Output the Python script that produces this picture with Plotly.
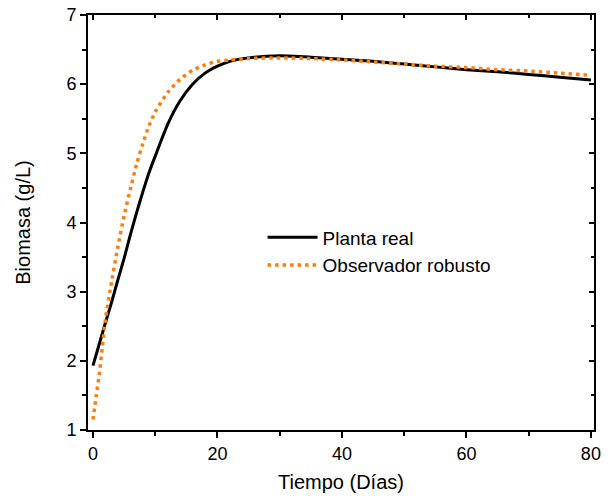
import plotly.graph_objects as go

t_real = [0, 1, 2, 3, 4, 5, 6, 7, 8, 9, 10, 12, 14, 16, 18, 20, 22, 25, 30, 35, 40, 45, 50, 55, 60, 65, 70, 75, 80]
y_real = [1.93, 2.24, 2.55, 2.85, 3.17, 3.48, 3.82, 4.14, 4.44, 4.72, 4.96, 5.42, 5.76, 6.00, 6.16, 6.26, 6.33, 6.38, 6.41, 6.39, 6.36, 6.33, 6.29, 6.25, 6.21, 6.18, 6.14, 6.10, 6.06]

t_obs = [0, 0.5, 1, 1.5, 2, 3, 4, 5, 6, 7, 8, 9, 10, 12, 14, 16, 18, 20, 22, 25, 30, 35, 40, 45, 50, 55, 60, 65, 70, 75, 80]
y_obs = [1.15, 1.48, 1.80, 2.20, 2.60, 3.15, 3.65, 4.10, 4.48, 4.84, 5.14, 5.40, 5.60, 5.88, 6.07, 6.20, 6.28, 6.33, 6.35, 6.37, 6.38, 6.37, 6.35, 6.32, 6.29, 6.26, 6.24, 6.21, 6.19, 6.16, 6.13]

names = ["Planta real", "Observador robusto"]
x_title = "Tiempo (Días)"
y_title = "Biomasa (g/L)"

FONT = "Liberation Sans, Arial, sans-serif"
XR = [-0.8, 80.5]
YR = [1, 7]

fig = go.Figure()
fig.add_trace(go.Scatter(x=t_real, y=y_real, mode="lines", name=names[0],
                         line=dict(color="black", width=3, shape="spline", smoothing=0.6)))
fig.add_trace(go.Scatter(x=t_obs, y=y_obs, mode="lines", name=names[1],
                         line=dict(color="#FF7F0E", width=3.5, dash="3.5px,4px", shape="spline", smoothing=0.6)))
fig.add_trace(go.Scatter(x=[None], y=[None], xaxis="x2", yaxis="y2", showlegend=False, hoverinfo="skip"))

axcommon = dict(showgrid=False, zeroline=False, linecolor="black", linewidth=2,
                tickcolor="black", tickwidth=1.5, ticklen=6, automargin=False,
                ticklabeloverflow="allow",
                tickfont=dict(family=FONT, size=18, color="black"))

fig.update_layout(
    width=612, height=500,
    margin=dict(l=88, r=18, t=15, b=70, autoexpand=False),
    plot_bgcolor="white", paper_bgcolor="white",
    font=dict(family=FONT, color="black"),
    xaxis=dict(range=XR, tickmode="linear", tick0=0, dtick=20, ticks="outside",
               showline=True, mirror=True,
               minor=dict(dtick=10, tick0=0, ticks="outside", ticklen=4, tickcolor="black", tickwidth=1.5),
               title=dict(text=x_title, font=dict(family=FONT, size=20, color="black"), standoff=12),
               **axcommon),
    yaxis=dict(range=YR, tickmode="linear", tick0=1, dtick=1, ticks="outside",
               showline=True, mirror=True,
               minor=dict(dtick=0.5, tick0=1, ticks="outside", ticklen=4, tickcolor="black", tickwidth=1.5),
               title=dict(text=y_title, font=dict(family=FONT, size=20, color="black"), standoff=30),
               **axcommon),
    xaxis2=dict(range=XR, overlaying="x", side="top", anchor="y2", showgrid=False, zeroline=False,
                showline=False, showticklabels=False, tickmode="linear", tick0=0, dtick=20,
                ticks="inside", ticklen=5, tickcolor="black", tickwidth=1.5, automargin=False,
                minor=dict(dtick=10, tick0=0, ticks="inside", ticklen=3, tickcolor="black", tickwidth=1.5)),
    yaxis2=dict(range=YR, overlaying="y", side="right", anchor="x2", showgrid=False, zeroline=False,
                showline=False, showticklabels=False, tickmode="linear", tick0=1, dtick=1,
                ticks="inside", ticklen=5, tickcolor="black", tickwidth=1.5, automargin=False,
                minor=dict(dtick=0.5, tick0=1, ticks="inside", ticklen=3, tickcolor="black", tickwidth=1.5)),
    legend=dict(x=0.345, y=0.51, xanchor="left", yanchor="top", bgcolor="rgba(0,0,0,0)",
                font=dict(family=FONT, size=19, color="black"), itemwidth=50, tracegroupgap=0),
    showlegend=True,
)

# remove the page's default 8px body margin so the figure sits at the window's corner
fig.write_html("out.html", config={"displayModeBar": False},
               post_script="document.body.style.margin='0';")
